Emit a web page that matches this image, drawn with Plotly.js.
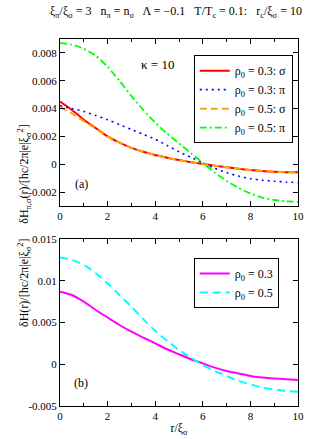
<!DOCTYPE html>
<html>
<head>
<meta charset="utf-8">
<script src="https://cdn.plot.ly/plotly-3.0.1.min.js"></script>
<style>
  html, body { margin: 0; padding: 0; background: #fff; }
  #chart { width: 332px; height: 439px; }
</style>
</head>
<body>
<div id="chart"></div>
<script>
// r / xi_sigma sample points
const r = [0, 0.5, 1, 1.5, 2, 2.5, 3, 3.5, 4, 4.5, 5, 5.5, 6, 6.5, 7, 7.5, 8, 8.5, 9, 9.5, 10];

// panel (a): delta H_{pi,sigma}
const sigma03 = [0.0045, 0.0039, 0.0032, 0.0026, 0.0020, 0.00155, 0.00118, 0.0009, 0.00066, 0.00047, 0.0003, 0.00015, 0.00002, -0.0001, -0.00022, -0.00033, -0.00042, -0.00049, -0.00054, -0.00057, -0.00058];
const pi03    = [0.0042, 0.0040, 0.0038, 0.0035, 0.0032, 0.00285, 0.0025, 0.00215, 0.0018, 0.00135, 0.0009, 0.0005, 0.0001, -0.0003, -0.0006, -0.00085, -0.00104, -0.00115, -0.00122, -0.00128, -0.00132];
const sigma05 = [0.0041, 0.00365, 0.0031, 0.00255, 0.0020, 0.00155, 0.00118, 0.0009, 0.00066, 0.00047, 0.0003, 0.00015, 0.00002, -0.0001, -0.00022, -0.00033, -0.00042, -0.00049, -0.00054, -0.00057, -0.00058];
const pi05    = [0.0087, 0.0086, 0.0083, 0.0078, 0.0070, 0.0060, 0.0049, 0.0039, 0.0030, 0.0022, 0.0015, 0.0008, 0.0001, -0.0006, -0.0012, -0.0017, -0.0021, -0.0024, -0.00257, -0.00267, -0.0027];

// panel (b): total delta H
const total03 = [0.0087, 0.0083, 0.0075, 0.0065, 0.0056, 0.0047, 0.0039, 0.0032, 0.0025, 0.0018, 0.0012, 0.0006, 0.0001, -0.0004, -0.0008, -0.0011, -0.0014, -0.0016, -0.0017, -0.0018, -0.0019];
const total05 = [0.0128, 0.0125, 0.0119, 0.0109, 0.0097, 0.0083, 0.0069, 0.0054, 0.0040, 0.0028, 0.0017, 0.0008, -0.0001, -0.0008, -0.0014, -0.0020, -0.0024, -0.0028, -0.0030, -0.0032, -0.0033];

const xTicks = [0, 2, 4, 6, 8, 10];
const yTicksA = [-0.002, 0, 0.002, 0.004, 0.006, 0.008];
const yTextA = ['-0.002', '0', '0.002', '0.004', '0.006', '0.008'];
const yTicksB = [-0.005, 0, 0.005, 0.01, 0.015];
const yTextB = ['-0.005', '0', '0.005', '0.01', '0.015'];

const FONT = 'Liberation Serif, Times New Roman, serif';

const line = (color, dash, width) => ({ color, dash, width, shape: 'spline', smoothing: 0.6 });

const traces = [
    { x: r, y: sigma03, name: 'ρ<sub>0</sub> = 0.3: σ', mode: 'lines', line: line('#ff0000', 'solid', 2), xaxis: 'x', yaxis: 'y', legend: 'legend' },
    { x: r, y: pi03, name: 'ρ<sub>0</sub> = 0.3: π', mode: 'lines', line: line('#0000ff', '2px,4px', 1.6), xaxis: 'x', yaxis: 'y', legend: 'legend' },
    { x: r, y: sigma05, name: 'ρ<sub>0</sub> = 0.5: σ', mode: 'lines', line: line('#ffa500', '7px,4px', 2), xaxis: 'x', yaxis: 'y', legend: 'legend' },
    { x: r, y: pi05, name: 'ρ<sub>0</sub> = 0.5: π', mode: 'lines', line: line('#00ff00', '7px,3px,2px,3px', 1.8), xaxis: 'x', yaxis: 'y', legend: 'legend' },
    { x: r, y: total03, name: 'ρ<sub>0</sub> = 0.3', mode: 'lines', line: line('#ff00ff', 'solid', 2), xaxis: 'x2', yaxis: 'y2', legend: 'legend2' },
    { x: r, y: total05, name: 'ρ<sub>0</sub> = 0.5', mode: 'lines', line: line('#00ffff', '8px,5px', 2), xaxis: 'x2', yaxis: 'y2', legend: 'legend2' }
];

const axisBase = {
    showline: true, linecolor: '#000', linewidth: 1, mirror: 'ticks',
    ticks: 'inside', ticklen: 5, tickcolor: '#000', tickwidth: 1,
    showgrid: false, zeroline: false,
    tickfont: { family: FONT, size: 11, color: '#000' }
};

const xAxis = (anchor) => ({
    ...axisBase, anchor, range: [0, 10], tickvals: xTicks,
    minor: { dtick: 1, ticks: 'inside', ticklen: 3, tickcolor: '#000' }
});

const legendBox = (y) => ({
    x: 0.562, y, xanchor: 'left', yanchor: 'top',
    bgcolor: '#fff', bordercolor: '#000', borderwidth: 1,
    font: { family: FONT, size: 12, color: '#000' },
    tracegroupgap: 0
});

const layout = {
    width: 332, height: 439,
    margin: { l: 60, r: 34, t: 39, b: 33 },
    paper_bgcolor: '#fff', plot_bgcolor: '#fff',
    font: { family: FONT, color: '#000' },
    showlegend: true,
    xaxis: xAxis('y'),
    yaxis: { ...axisBase, domain: [0.545, 1], range: [-0.003, 0.009], tickvals: yTicksA, ticktext: yTextA },
    xaxis2: { ...xAxis('y2'), title: { text: 'r/ξ<sub>σ</sub>', font: { family: FONT, size: 12 }, standoff: 2 } },
    yaxis2: { ...axisBase, domain: [0, 0.455], range: [-0.005, 0.015], tickvals: yTicksB, ticktext: yTextB },
    legend: legendBox(0.956),
    legend2: legendBox(0.403),
    annotations: [
        { text: 'ξ<sub>π</sub>/ξ<sub>σ</sub> = 3   n<sub>π</sub> = n<sub>σ</sub>   Λ = −0.1   T/T<sub>c</sub> = 0.1:   r<sub>c</sub>/ξ<sub>σ</sub> = 10',
          xref: 'paper', yref: 'paper', x: 0.487, y: 1 + 27 / 367, xanchor: 'center', yanchor: 'middle',
          showarrow: false, font: { family: FONT, size: 12 } },
        { text: 'κ = 10', xref: 'x', yref: 'y', x: 4.1, y: 0.0072, showarrow: false, font: { family: FONT, size: 13 } },
        { text: '(a)', xref: 'x', yref: 'y', x: 0.9, y: -0.0014, showarrow: false, font: { family: FONT, size: 12 } },
        { text: '(b)', xref: 'x2', yref: 'y2', x: 0.9, y: -0.0022, showarrow: false, font: { family: FONT, size: 12 } },
        { text: 'δH<sub>π,σ</sub>(r)/[hc/2π|e|ξ<sub>σ</sub><sup>2</sup>]', xref: 'paper', yref: 'paper',
          x: -0.193, y: 0.772, textangle: -90, showarrow: false, font: { family: FONT, size: 12 } },
        { text: 'δH(r)/[hc/2π|e|ξ<sub>σ</sub><sup>2</sup>]', xref: 'paper', yref: 'paper',
          x: -0.193, y: 0.21, textangle: -90, showarrow: false, font: { family: FONT, size: 12 } }
    ]
};

Plotly.newPlot('chart', traces, layout, { displayModeBar: false });
</script>
</body>
</html>
